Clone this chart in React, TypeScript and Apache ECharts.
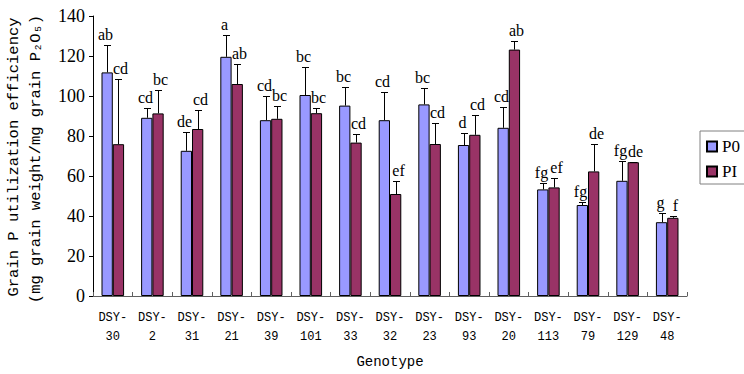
import React, { useEffect, useRef } from "react";
import * as echarts from "echarts";

const categories = ["DSY-30", "DSY-2", "DSY-31", "DSY-21", "DSY-39", "DSY-101", "DSY-33", "DSY-32", "DSY-23", "DSY-93", "DSY-20", "DSY-113", "DSY-79", "DSY-129", "DSY-48"];
const p0Values = [111.8, 89.1, 72.6, 119.6, 87.9, 100.5, 95.2, 87.9, 95.8, 75.5, 84.1, 53.3, 45.5, 57.6, 36.9];
const p0Sd = [13.9, 4.7, 9.3, 10.7, 11.9, 13.9, 9.3, 13.9, 8.0, 5.8, 10.4, 3.0, 1.7, 9.8, 4.7];
const piValues = [75.9, 91.3, 83.5, 106.0, 88.6, 91.4, 76.7, 51.0, 76.0, 80.6, 123.2, 54.3, 62.3, 66.9, 39.1];
const piSd = [32.5, 11.8, 9.7, 9.8, 6.6, 2.4, 4.4, 6.4, 10.6, 10.0, 4.4, 4.6, 13.7, 0, 1.1];
const p0Letters = ["ab", "cd", "de", "a", "cd", "bc", "bc", "cd", "bc", "d", "cd", "fg", "fg", "fg", "g"];
const piLetters = ["cd", "bc", "cd", "ab", "bc", "bc", "cd", "ef", "cd", "cd", "ab", "ef", "de", "de", "f"];
const yTicks = { min: 0, max: 140, interval: 20 };

const BAR_RATIO = 0.285;

function makeRender(side: number, letters: string[]) {
  return (params: any, api: any) => {
    const i = api.value(0);
    const v = api.value(1);
    const e = api.value(2);
    const band = api.size([1, 0])[0];
    const bw = band * BAR_RATIO;
    const base = api.coord([i, v]);
    const top = api.coord([i, e]);
    const x = Math.round(base[0] + (side * bw) / 2) + 0.5;
    const yTop = Math.round(top[1]) + 0.5;
    const cap = 3.5;
    return {
      type: "group",
      children: [
        { type: "line", shape: { x1: x, y1: base[1], x2: x, y2: yTop }, style: { stroke: "#000", lineWidth: 1 } },
        { type: "line", shape: { x1: x - cap, y1: yTop, x2: x + cap, y2: yTop }, style: { stroke: "#000", lineWidth: 1 } },
        {
          type: "text",
          x: x + side * 2,
          y: yTop - 3,
          style: {
            text: letters[params.dataIndex],
            align: "center",
            verticalAlign: "bottom",
            textAlign: "center",
            textVerticalAlign: "bottom",
            font: '16px "Liberation Serif"',
            fill: "#000",
          },
        },
      ],
    };
  };
}

export default function App() {
  const ref = useRef<HTMLDivElement>(null);
  useEffect(() => {
    if (!ref.current) return;
    const chart = echarts.init(ref.current, null, { renderer: "svg" });
    const barStyle = (color: string) => ({ color, borderColor: "#000", borderWidth: 1 });
    chart.setOption({
      animation: false,
      backgroundColor: "#fff",
      grid: { left: 93, right: 57, top: 16, bottom: 77, containLabel: false },
      legend: {
        data: ["P0", "PI"],
        orient: "vertical",
        left: 700,
        top: 131,
        padding: [7, 30, 4, 6],
        itemWidth: 10,
        itemHeight: 10,
        itemGap: 8,
        icon: "rect",
        borderColor: "#808080",
        borderWidth: 1,
        borderRadius: 0,
        textStyle: { fontFamily: "Liberation Serif", fontSize: 17, color: "#000" },
      },
      xAxis: {
        type: "category",
        data: categories,
        name: "Genotype",
        nameLocation: "middle",
        nameGap: 59,
        nameTextStyle: { fontFamily: "Liberation Mono", fontSize: 14, color: "#000" },
        axisLine: { lineStyle: { color: "#606060", width: 1 } },
        axisTick: { show: true, inside: true, length: 4, lineStyle: { color: "#606060" } },
        axisLabel: {
          interval: 0,
          margin: 12,
          fontFamily: "Liberation Mono",
          fontSize: 12,
          lineHeight: 19,
          color: "#000",
          formatter: (v: string) => v.replace("-", "-\n"),
        },
        splitLine: { show: false },
      },
      yAxis: {
        type: "value",
        min: yTicks.min,
        max: yTicks.max,
        interval: yTicks.interval,
        axisLine: { show: true, lineStyle: { color: "#000", width: 1 } },
        axisTick: { show: true, length: 4, lineStyle: { color: "#000" } },
        axisLabel: { fontFamily: "Liberation Serif", fontSize: 18, color: "#000", margin: 8 },
        splitLine: { show: false },
      },
      graphic: [
        {
          type: "text",
          x: 14,
          y: 157,
          rotation: Math.PI / 2,
          style: {
            text: "Grain P utilization efficiency",
            font: '15.5px "Liberation Mono"',
            align: "center",
            verticalAlign: "middle",
            textAlign: "center",
            textVerticalAlign: "middle",
            fill: "#000",
          },
        },
        {
          type: "text",
          x: 36,
          y: 159,
          rotation: Math.PI / 2,
          style: {
            text: "(mg grain weight/mg grain P\u2082O\u2085)",
            font: '15.5px "Liberation Mono"',
            align: "center",
            verticalAlign: "middle",
            textAlign: "center",
            textVerticalAlign: "middle",
            fill: "#000",
          },
        },
      ],
      series: [
        {
          name: "P0",
          type: "bar",
          data: p0Values,
          barWidth: BAR_RATIO * 100 + "%",
          barGap: "0%",
          itemStyle: barStyle("#9999FF"),
        },
        {
          name: "PI",
          type: "bar",
          data: piValues,
          barWidth: BAR_RATIO * 100 + "%",
          barGap: "0%",
          itemStyle: barStyle("#993366"),
        },
        {
          name: "P0 err",
          type: "custom",
          renderItem: makeRender(-1, p0Letters),
          data: categories.map((_, i) => [i, p0Values[i], p0Values[i] + p0Sd[i]]),
          encode: { x: 0, y: [1, 2] },
          z: 5,
          clip: false,
          silent: true,
        },
        {
          name: "PI err",
          type: "custom",
          renderItem: makeRender(1, piLetters),
          data: categories.map((_, i) => [i, piValues[i], piValues[i] + piSd[i]]),
          encode: { x: 0, y: [1, 2] },
          z: 5,
          clip: false,
          silent: true,
        },
      ],
    });
    return () => chart.dispose();
  }, []);
  return <div ref={ref} style={{ position: "fixed", left: 0, top: 0, width: 744, height: 374 }} />;
}
